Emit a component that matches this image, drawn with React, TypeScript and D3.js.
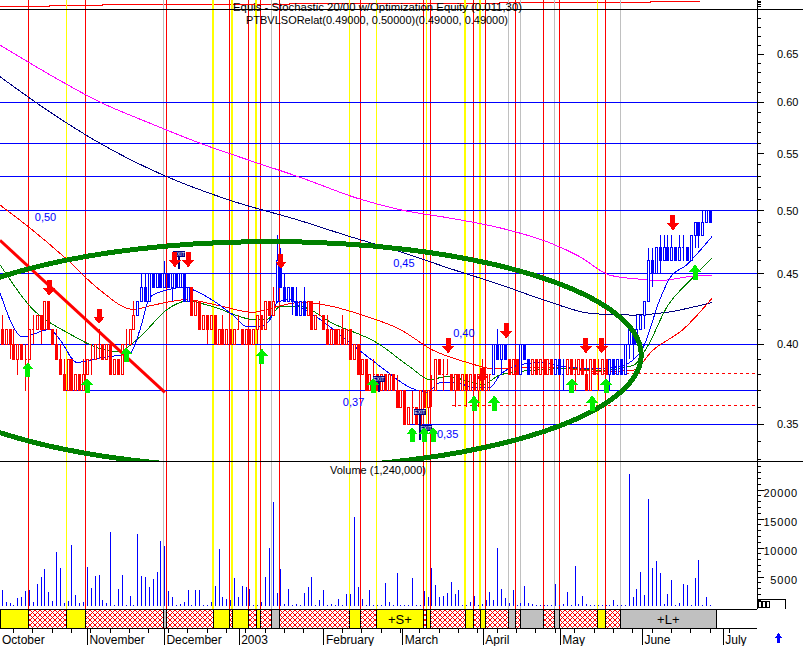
import React from "react";
import * as d3 from "d3";

// ---------- DATA (prices in cents: open, high, low, close) ----------
const ohlc: number[][] = [
  [41,42,40,40],[40,41,40,41],[41,41,39,40],[40,41,39,39],[39,40,38,40],[40,40,39,39],[39,40,37,39],[39,41,39,41],[41,42,40,41],[41,42,41,42],
  [42,42,40,41],[41,43,41,43],[43,43,41,41],[41,41,40,40],[40,41,39,39],[39,40,38,38],[38,39,37,37],[37,39,37,39],[39,39,37,37],[37,38,37,38],
  [38,38,37,37],[37,39,37,38],[38,39,38,39],[39,40,38,39],[39,40,39,40],[40,41,39,40],[40,40,39,39],[39,40,39,40],[40,40,38,38],[38,39,38,39],
  [39,39,38,38],[38,40,38,40],[40,41,39,40],[40,41,40,41],[41,43,41,42],[42,43,42,43],[43,45,43,44],[44,45,43,43],[43,45,43,45],[45,45,44,44],
  [44,45,44,45],[45,45,44,44],[44,46,44,45],[45,45,44,44],[44,45,43,45],[45,45,44,44],[44,45,44,45],[45,45,43,43],[43,44,43,44],[44,44,42,42],
  [42,43,42,43],[43,43,41,41],[41,42,41,42],[42,42,40,41],[41,42,41,42],[42,42,40,40],[40,41,40,41],[41,42,40,40],[40,41,40,41],[41,41,40,40],
  [40,41,40,41],[41,42,41,41],[41,41,40,40],[40,41,40,41],[41,41,40,40],[40,41,40,41],[41,42,40,42],[42,42,41,41],[41,43,41,43],[43,43,42,42],
  [42,44,42,43],[43,48,43,46],[46,47,44,44],[44,45,43,43],[43,44,43,44],[44,44,42,43],[43,44,42,42],[42,43,42,43],[43,44,42,42],[42,43,42,43],
  [43,43,41,41],[41,42,41,42],[42,43,42,42],[42,42,41,41],[41,42,40,40],[40,41,40,41],[41,41,40,40],[40,41,40,41],[41,42,40,40],[40,41,40,41],
  [41,41,39,39],[39,40,39,40],[40,40,38,38],[38,39,38,39],[39,39,37,37],[37,38,37,38],[38,39,37,38],[38,38,37,37],[37,38,37,38],[38,38,37,37],
  [37,38,37,38],[38,38,37,37],[37,38,36,36],[36,37,36,37],[37,37,35,35],[35,36,35,36],[36,37,35,36],[36,36,35,35],[35,37,35,37],[37,37,36,36],
  [36,37,35,37],[37,38,36,37],[37,39,37,39],[39,39,38,38],[38,39,37,38],[38,39,38,38],[38,38,37,37],[37,38,36,38],[38,38,37,37],[37,38,37,38],
  [38,38,36,37],[37,38,37,38],[38,38,37,37],[37,38,36,38],[38,39,37,37],[37,38,37,38],[38,38,37,38],[38,40,38,40],[40,41,39,39],[39,40,38,40],
  [40,40,39,39],[39,39,38,38],[38,39,38,39],[39,39,38,38],[38,40,38,40],[40,40,39,39],[39,39,38,38],[38,39,38,39],[39,39,38,38],[38,39,38,39],
  [39,39,38,38],[38,39,38,39],[39,39,38,38],[38,39,38,39],[39,39,38,38],[38,39,37,38],[38,39,38,39],[39,39,38,38],[38,39,37,38],[38,39,38,39],
  [39,39,38,38],[38,39,37,37],[37,39,37,39],[39,39,38,38],[38,39,37,38],[38,39,38,39],[39,39,38,38],[38,39,37,39],[39,39,38,38],[38,39,38,39],
  [39,39,38,38],[38,40,38,40],[40,41,39,41],[41,41,39,40],[40,42,40,41],[41,42,41,42],[42,43,41,43],[43,47,43,46],[46,47,44,45],[45,47,45,47],
  [47,48,45,46],[46,48,46,47],[47,48,46,46],[46,48,46,47],[47,47,46,46],[46,48,46,47],[47,48,46,47],[47,47,46,46],[46,48,46,48],[48,49,47,49],
  [49,49,47,48],[48,50,48,49],[49,50,49,50],[50,50,49,49],
];

const volumes: number[] = [
  2800,700,500,200,1400,1550,2600,2750,700,3800,
  5000,6400,2400,860,9300,6550,500,860,10500,1900,
  500,700,6700,3100,5200,5300,1000,500,12750,100,
  2900,5300,200,1700,100,12400,5200,5000,3300,4600,
  5860,11200,10300,2600,1550,200,350,700,2750,100,
  2750,2750,200,100,700,3450,9800,1550,1200,1000,
  4800,1550,3450,3300,2900,100,100,700,5000,10000,
  17900,2250,6400,350,2900,100,350,200,2250,3300,
  5000,200,1000,2750,100,350,100,1200,100,2100,
  2100,15300,3300,1200,200,2750,100,100,100,4000,
  700,200,5700,100,100,100,4800,200,100,2600,
  1550,6600,3600,1550,1700,2250,4100,2100,2750,100,
  100,700,1700,100,350,1000,2400,1000,10000,2900,
  1400,500,2750,100,500,3450,500,350,100,100,
  100,100,100,3800,200,350,2400,100,6900,350,
  1700,350,100,100,100,100,100,100,1000,100,
  100,100,22800,1550,2900,5860,1900,18400,6550,7750,
  5700,350,2100,4500,100,500,3800,3600,100,4800,
  7900,100,1550,100,
];

const blueRanges: number[][] = [[35,48],[71,78],[127,130],[134,136],[143,145],[157,183]];

const redSignals = [6.7,21.6,42.3,58.7,63.6,66.7,71.6,92.5,108.8,110.6,121.7,124.9,132.6,139.8,143.9,155.8];
const yellowSignals = [16.6,54.5,59.4,65.6,89.7,96.7,109.6,119.6,123.5,153.8];
const graySignals = [41.6,69.6,130.8,133.9,142.6,159.7];
const stripStart = -0.6;
const stripEnd = 184.5;

const fullLevels = [0.6,0.56,0.53,0.5,0.45,0.4];
const partialLevels: number[][] = [[0.37,16.2],[0.35,105.4]];
const dashedLevels: number[][] = [[0.381,151.9],[0.361,116.2]];
const levelLabels: [string, number, number][] = [
  ["0,50",8.4,0.492],["0,45",101.0,0.455],["0,40",116.5,0.405],["0,37",88.0,0.361],["0,35",112.3,0.342],
];

const maMagenta: number[][] = [[-0.6,0.660],[12.3,0.628],[25.2,0.600],[38.2,0.579],[51.1,0.560],[64,0.544],[76.9,0.529],[92.4,0.510],[102.8,0.501],[115.7,0.494],[128.6,0.486],[141.5,0.474],[149.3,0.463],[157,0.449],[164.8,0.446],[169.9,0.445],[177.7,0.448],[183.4,0.449]];
const maNavy: number[][] = [[-0.6,0.626],[12.3,0.590],[25.2,0.560],[41.5,0.531],[58.8,0.509],[76.9,0.492],[89.8,0.479],[102.8,0.467],[115.7,0.454],[128.6,0.442],[139.7,0.431],[152.6,0.421],[163,0.420],[171.8,0.422],[183.4,0.429]];
const maRed: number[][] = [[-0.6,0.505],[7.9,0.484],[16.7,0.461],[25.2,0.438],[33.8,0.424],[38.9,0.427],[47.7,0.431],[55.5,0.427],[64.8,0.422],[71,0.426],[76.9,0.429],[94.2,0.419],[102.8,0.410],[111.3,0.396],[120.1,0.388],[126.8,0.384],[137.1,0.385],[145.9,0.384],[154.4,0.382],[163,0.383],[168.1,0.396],[175.9,0.410],[183.4,0.432]];
const maGreen: number[][] = [[-0.6,0.457],[7.9,0.424],[16.7,0.408],[29.6,0.395],[35.6,0.405],[42.6,0.424],[47.7,0.430],[54.4,0.426],[64.8,0.417],[68.4,0.417],[71.8,0.426],[76.9,0.426],[85.5,0.414],[96.8,0.401],[105.4,0.385],[110.5,0.377],[114.9,0.379],[124.2,0.374],[128.6,0.380],[137.1,0.383],[145.9,0.384],[154.4,0.383],[163,0.386],[166.6,0.398],[171.8,0.426],[177.7,0.445],[183.4,0.462]];
const maBlue: number[][] = [[-0.6,0.436],[5.3,0.405],[12.3,0.410],[14.9,0.403],[19.3,0.388],[25.2,0.391],[33,0.394],[35.6,0.410],[38.2,0.433],[42.6,0.438],[46.7,0.440],[52.9,0.433],[59.6,0.420],[63.2,0.412],[66.6,0.412],[69.2,0.417],[71,0.429],[74.3,0.431],[76.9,0.426],[82.1,0.417],[89.8,0.401],[98.4,0.384],[105.4,0.372],[109.7,0.369],[113.1,0.375],[116.5,0.375],[122.7,0.372],[126,0.372],[128.6,0.380],[133,0.386],[138.9,0.388],[145.9,0.385],[154.4,0.384],[160.4,0.386],[165.6,0.398],[169.9,0.431],[172.5,0.447],[176.9,0.457],[180.3,0.468],[183.4,0.479]];

const downArrows: number[][] = [[12.1,0.434],[25.0,0.414],[44.6,0.455],[48.0,0.455],[72.0,0.454],[115.2,0.394],[124.0,0.375],[130.2,0.404],[150.8,0.394],[154.9,0.394],[173.3,0.484]];
const upArrows: number[][] = [[6.6,0.388],[21.9,0.378],[32.0,0.398],[67.1,0.397],[95.8,0.378],[105.9,0.348],[109.0,0.348],[111.3,0.348],[121.9,0.367],[127.1,0.367],[147.2,0.378],[152.4,0.367],[156.0,0.378],[179.0,0.457]];
const exitMarks: number[][] = [[45.7,0.4675,0.454],[97.3,0.379,0.369],[107.9,0.359,0.341],[109.5,0.3495,0.341]];

const trendLine: number[][] = [[-0.6,0.476],[42.0,0.369]];
const ellipseIdx = [-26.7,165.1];
const ellipsePrice = [0.475,0.325];

const equityIdx = [-0.6,12.3,26.0,35.0,74.3,128.6,167.4,180.3];
const equityVal = [0,1,1.6,2.2,3.1,3.6,4.5,4.5];

const monthNames = ["October","November","December","2003","February","March","April","May","June","July"];
const monthIdx = [-0.6,22.0,41.9,61.2,83.1,103.5,124.3,144.2,165.4,186.3];
const priceLabels = [0.35,0.4,0.45,0.5,0.55,0.6,0.65];
const volLabels = [5000,10000,15000,20000];

const titleLine1 = "Equis - Stochastic 20/00  w/Optimization Equity (0.011,30)";
const titleLine2 = "PTBVLSORelat(0.49000, 0.50000)(0.49000, 0.49000)";

// ---------- CHART ----------
const FONT = "'Liberation Sans', Arial, sans-serif";

export default function App() {
  const x = d3.scaleLinear().domain([0, 190]).range([2.3, 2.3 + 3.87 * 190]);
  const y = d3.scaleLog().domain([0.35, 0.6]).range([424, 102]);
  const v = d3.scaleLinear().domain([0, 20000]).range([606, 490]);
  const eq = d3.scaleLinear().domain([0, 4.5]).range([6.7, 1.7]);
  const AX = 757;

  const isBlue = (i: number) => blueRanges.some(([a, b]) => i >= a && i <= b);
  const line = d3.line<number[]>().x(d => x(d[0])).y(d => y(d[1])).curve(d3.curveMonotoneX);
  const eqLine = d3.line<number>().x((d, i) => x(equityIdx[i])).y(d => eq(d)).curve(d3.curveStepAfter);

  const sig = [
    ...redSignals.map(s => ({ s, t: "h" })),
    ...yellowSignals.map(s => ({ s, t: "y" })),
    ...graySignals.map(s => ({ s, t: "g" })),
  ].sort((a, b) => a.s - b.s);
  const segs: { a: number; b: number; t: string }[] = [];
  let cur = { s: stripStart, t: "y" };
  sig.forEach(k => { segs.push({ a: cur.s, b: k.s, t: cur.t }); cur = k; });
  segs.push({ a: cur.s, b: stripEnd, t: cur.t });

  const priceMinor = d3.range(33, 72).map(c => c / 100);
  const volMinor = d3.range(1000, 25000, 1000);
  const minorX = d3.range(2.9, 190, 5);

  const arrowDown = (cx: number, ty: number) =>
    `M${cx - 2.5},${ty - 15}L${cx + 2.5},${ty - 15}L${cx + 2.5},${ty - 7}L${cx + 6},${ty - 7}L${cx},${ty}L${cx - 6},${ty - 7}L${cx - 2.5},${ty - 7}Z`;
  const arrowUp = (cx: number, ty: number) =>
    `M${cx - 2.5},${ty + 15}L${cx + 2.5},${ty + 15}L${cx + 2.5},${ty + 7}L${cx + 6},${ty + 7}L${cx},${ty}L${cx - 6},${ty + 7}L${cx - 2.5},${ty + 7}Z`;

  return (
    <svg width={803} height={646} style={{ position: "absolute", left: 0, top: 0, background: "#fff" }}
      fontFamily={FONT} shapeRendering="crispEdges">
      <defs>
        <clipPath id="pclip"><rect x={0} y={9.5} width={AX} height={451.5} /></clipPath>
        <pattern id="hatch" width={5} height={5} patternUnits="userSpaceOnUse">
          <rect width={5} height={5} fill="#fff" />
          <path d="M0,0L5,5M5,0L0,5" stroke="#ff0000" strokeWidth={1.2} />
        </pattern>
      </defs>
      <rect width={803} height={646} fill="#fff" />

      <path d={eqLine(equityVal) || ""} fill="none" stroke="#ff0000" strokeWidth={1} />

      {graySignals.map((s, i) => <line key={"g" + i} x1={x(s)} x2={x(s)} y1={0} y2={609} stroke="#c0c0c0" />)}
      {yellowSignals.map((s, i) => <line key={"y" + i} x1={x(s)} x2={x(s)} y1={0} y2={609} stroke="#ffff00" strokeWidth={1.5} />)}
      {redSignals.map((s, i) => <line key={"r" + i} x1={x(s)} x2={x(s)} y1={0} y2={609} stroke="#ff0000" />)}

      <g clipPath="url(#pclip)">
        {fullLevels.map((p, i) => <line key={"l" + i} x1={0} x2={AX} y1={y(p)} y2={y(p)} stroke="#0000ff" strokeWidth={1} />)}
        {partialLevels.map(([p, s], i) => <line key={"pl" + i} x1={x(s)} x2={AX} y1={y(p)} y2={y(p)} stroke="#0000ff" strokeWidth={1} />)}
        {dashedLevels.map(([p, s], i) => <line key={"dl" + i} x1={x(s)} x2={AX} y1={y(p)} y2={y(p)} stroke="#ff0000" strokeDasharray="3,3" />)}

        <path d={line(maMagenta) || ""} fill="none" stroke="#ff00ff" strokeWidth={1} />
        <path d={line(maNavy) || ""} fill="none" stroke="#000080" strokeWidth={1} />
        <path d={line(maRed) || ""} fill="none" stroke="#ff0000" strokeWidth={1} />
        <path d={line(maGreen) || ""} fill="none" stroke="#008000" strokeWidth={1} />
        <path d={line(maBlue) || ""} fill="none" stroke="#0000ff" strokeWidth={1} />

        {ohlc.map(([o, h, l, c], i) => {
          const cx = x(i);
          const col = isBlue(i) ? "#0000ff" : "#ff0000";
          const yo = y(o / 100), yc = y(c / 100);
          return (
            <g key={"b" + i}>
              <line x1={cx} x2={cx} y1={y(h / 100)} y2={y(l / 100)} stroke={col} />
              {o === c
                ? <line x1={cx - 1} x2={cx + 1} y1={yo} y2={yo} stroke={col} />
                : <rect x={cx - 1} width={2} y={Math.min(yo, yc)} height={Math.abs(yo - yc)}
                    fill={c < o ? col : "#fff"} stroke={col} strokeWidth={1} />}
            </g>
          );
        })}

        <line x1={x(trendLine[0][0])} y1={y(trendLine[0][1])} x2={x(trendLine[1][0])} y2={y(trendLine[1][1])}
          stroke="#ff0000" strokeWidth={3} shapeRendering="auto" />
        <ellipse cx={(x(ellipseIdx[0]) + x(ellipseIdx[1])) / 2} cy={(y(ellipsePrice[0]) + y(ellipsePrice[1])) / 2}
          rx={(x(ellipseIdx[1]) - x(ellipseIdx[0])) / 2} ry={(y(ellipsePrice[1]) - y(ellipsePrice[0])) / 2}
          fill="none" stroke="#008000" strokeWidth={5} />
      </g>

      {exitMarks.map(([i, p, pb], k) => (
        <g key={"e" + k}>
          <line x1={x(i)} x2={x(i)} y1={y(p)} y2={y(pb)} stroke="#000080" strokeWidth={1.5} />
          <rect x={x(i) - 6} y={y(p)} width={12} height={6} fill="#000080" />
          <text x={x(i)} y={y(p) + 5} fontSize={5} fill="#fff" textAnchor="middle">EXIT</text>
        </g>
      ))}

      {downArrows.map(([i, p], k) => <path key={"da" + k} d={arrowDown(x(i), y(p))} fill="#ff0000" />)}
      {upArrows.map(([i, p], k) => <path key={"ua" + k} d={arrowUp(x(i), y(p))} fill="#00ee00" />)}

      {levelLabels.map(([t, i, p], k) => (
        <text key={"ll" + k} x={x(i)} y={y(p)} fontSize={11} fill="#0000ff">{t}</text>
      ))}

      {volumes.map((val, i) => (
        <line key={"v" + i} x1={x(i)} x2={x(i)} y1={v(0)} y2={v(val)} stroke="#0000ff" strokeWidth={1} />
      ))}
      <text x={378} y={474} fontSize={11} textAnchor="middle" fill="#000">Volume (1,240,000)</text>

      {segs.map((s, k) => {
        const x0 = Math.max(0, x(s.a)), x1 = x(s.b);
        const fill = s.t === "h" ? "url(#hatch)" : s.t === "y" ? "#ffff00" : "#c0c0c0";
        return (
          <g key={"s" + k}>
            <rect x={x0} y={609} width={Math.max(0, x1 - x0)} height={19} fill={fill} stroke="#000" strokeWidth={1} />
            {s.t !== "h" && x1 - x0 > 30 && (
              <text x={(x0 + x1) / 2} y={624} fontSize={13} textAnchor="middle" fill="#000">{s.t === "y" ? "+S+" : "+L+"}</text>
            )}
          </g>
        );
      })}
      <line x1={0} x2={AX} y1={609} y2={609} stroke="#000" />
      <line x1={0} x2={AX} y1={628} y2={628} stroke="#000" />

      <line x1={0} x2={803} y1={9} y2={9} stroke="#000" />
      <line x1={0} x2={803} y1={461} y2={461} stroke="#000" />
      <line x1={AX} x2={AX} y1={0} y2={609} stroke="#000" />

      {priceMinor.map((p, k) => {
        const yy = y(p);
        if (yy < 0 || yy > 461) return null;
        const major = Math.round(p * 100) % 5 === 0;
        return <line key={"pt" + k} x1={AX} x2={AX + (major ? 7 : 4)} y1={yy} y2={yy} stroke="#000" />;
      })}
      {[2, 4, 6].map(k => <line key={"et" + k} x1={AX} x2={AX + 4} y1={k} y2={k} stroke="#000" />)}
      {priceLabels.map((p, k) => (
        <text key={"pl" + k} x={777} y={y(p) + 4} fontSize={11} fill="#000">{p.toFixed(2)}</text>
      ))}

      {volMinor.map((val, k) => (
        <line key={"vt" + k} x1={AX} x2={AX + (val % 5000 === 0 ? 7 : 4)} y1={v(val)} y2={v(val)} stroke="#000" />
      ))}
      {volLabels.map((val, k) => (
        <text key={"vl" + k} x={798} y={v(val) + 7} fontSize={11} textAnchor="end" letterSpacing={0.8} fill="#000">{val}</text>
      ))}
      <path d="M757,599H785V609" fill="none" stroke="#000" />
      {[758, 762, 766].map((xx, k) => <rect key={"bx" + k} x={xx} y={601} width={3} height={6} fill="none" stroke="#000" strokeWidth={1} />)}

      {minorX.map((i, k) => <line key={"mt" + k} x1={x(i)} x2={x(i)} y1={628} y2={633} stroke="#000" />)}
      {monthIdx.map((i, k) => (
        <g key={"m" + k}>
          {k > 0 && <line x1={x(i)} x2={x(i)} y1={628} y2={645} stroke="#000" />}
          <text x={Math.max(0, x(i)) + 2} y={644} fontSize={12} fill="#000">{monthNames[k]}</text>
        </g>
      ))}
      <path d="M777,643V637.5H775L778.5,633L782,637.5H780V643Z" fill="#0000ff" />

      <text x={233} y={11} fontSize={10.5} textLength={289} lengthAdjust="spacingAndGlyphs" fill="#000">{titleLine1}</text>
      <text x={246} y={23.5} fontSize={10.5} textLength={262} lengthAdjust="spacingAndGlyphs" fill="#000">{titleLine2}</text>
    </svg>
  );
}
